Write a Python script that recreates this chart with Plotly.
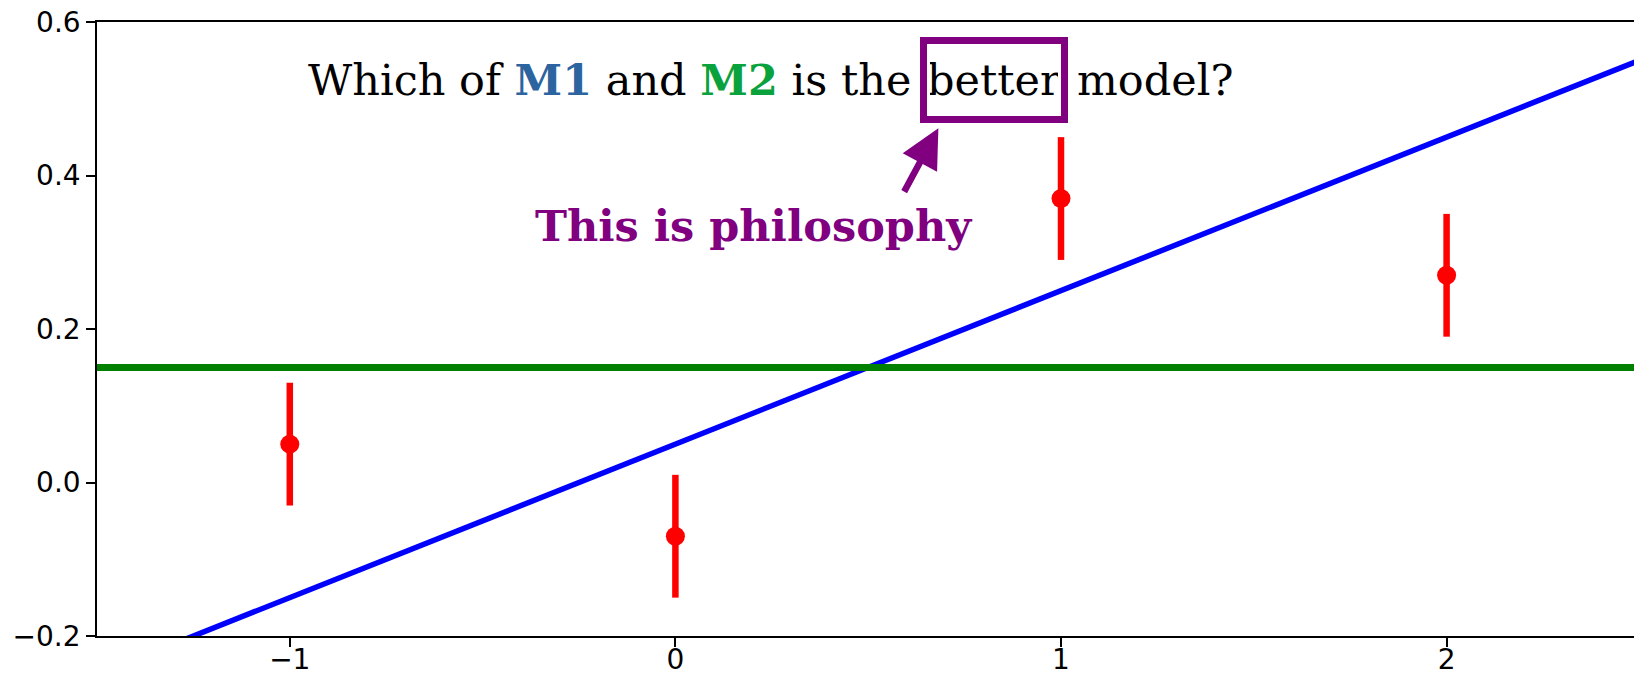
import plotly.graph_objects as go

# observations with symmetric uncertainties
obs_x = [-1, 0, 1, 2]
obs_y = [0.05, -0.07, 0.37, 0.27]
obs_err = [0.08, 0.08, 0.08, 0.08]

# model M1: straight line, model M2: constant
m1_x = [-1.5, 2.5]
m1_y = [-0.25, 0.55]
m2_x = [-1.5, 2.5]
m2_y = [0.15, 0.15]

x_ticks = [-1, 0, 1, 2]
x_ticktext = ["\u22121", "0", "1", "2"]
y_ticks = [-0.2, 0.0, 0.2, 0.4, 0.6]
y_ticktext = ["\u22120.2", "0.0", "0.2", "0.4", "0.6"]

PURPLE = "#800080"
M1_COLOR = "#2c64a0"
M2_COLOR = "#0aa23c"
SERIF = "DejaVu Serif"
TEXT_SIZE = 43

fig = go.Figure()

fig.add_trace(go.Scatter(x=m1_x, y=m1_y, mode="lines",
                         line=dict(color="#0000ff", width=5.5), showlegend=False))
fig.add_trace(go.Scatter(x=m2_x, y=m2_y, mode="lines",
                         line=dict(color="#008000", width=7), showlegend=False))
fig.add_trace(go.Scatter(
    x=obs_x, y=obs_y, mode="markers",
    marker=dict(color="#ff0000", size=19),
    error_y=dict(type="data", array=obs_err, symmetric=True,
                 color="#ff0000", thickness=6.5, width=0),
    showlegend=False,
))

title_y = 0.5243
# question text split around the boxed word
fig.add_annotation(
    x=0.6164, y=title_y, xref="x", yref="y", xanchor="right", yanchor="middle",
    showarrow=False,
    text=("Which of <b><span style='color:%s'>M1</span></b> and "
          "<b><span style='color:%s'>M2</span></b> is the") % (M1_COLOR, M2_COLOR),
    font=dict(family=SERIF, size=TEXT_SIZE, color="black"),
)
fig.add_annotation(
    x=0.825, y=title_y, xref="x", yref="y", xanchor="center", yanchor="middle",
    showarrow=False, text="better",
    font=dict(family=SERIF, size=TEXT_SIZE, color="black"),
    width=128, height=66, borderpad=3,
    bordercolor=PURPLE, borderwidth=7,
)
fig.add_annotation(
    x=1.037, y=title_y, xref="x", yref="y", xanchor="left", yanchor="middle",
    showarrow=False, text="model?",
    font=dict(family=SERIF, size=TEXT_SIZE, color="black"),
)

# arrow pointing at the box
fig.add_annotation(
    x=0.682, y=0.4617, xref="x", yref="y", text="",
    showarrow=True, ax=-35, ay=65, axref="pixel", ayref="pixel",
    arrowhead=2, arrowsize=1.2, arrowwidth=6.5, arrowcolor=PURPLE, standoff=0,
)
fig.add_annotation(
    x=0.2036, y=0.3343, xref="x", yref="y", xanchor="center", yanchor="middle",
    showarrow=False, text="<b>This is philosophy</b>",
    font=dict(family=SERIF, size=TEXT_SIZE, color=PURPLE),
)

axis_common = dict(
    showline=True, linecolor="black", linewidth=1.6,
    ticks="outside", ticklen=9, tickwidth=1.6, tickcolor="black",
    showgrid=False, zeroline=False, automargin=False,
    tickfont=dict(family="DejaVu Sans", size=28, color="black"),
)

fig.update_xaxes(range=[-1.5, 2.486], tickvals=x_ticks, ticktext=x_ticktext,
                 mirror=True, ticklabelstandoff=-11, **axis_common)
fig.update_yaxes(range=[-0.2, 0.6], tickvals=y_ticks, ticktext=y_ticktext,
                 **axis_common)

fig.update_layout(
    width=1634, height=680,
    margin=dict(l=97, r=0, t=22, b=44),
    plot_bgcolor="white", paper_bgcolor="white",
)

fig.write_html("out.html")
